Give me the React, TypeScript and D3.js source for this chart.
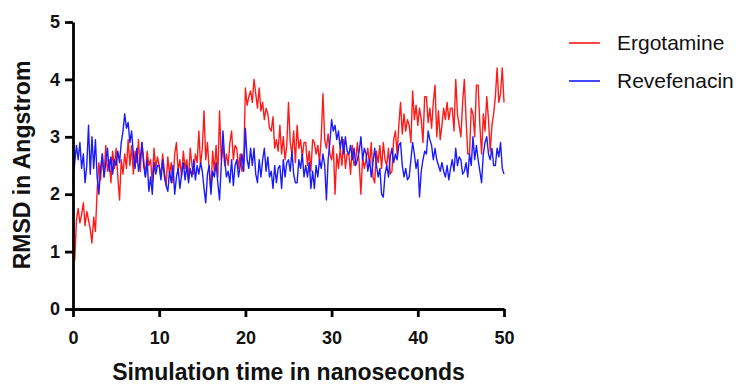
import React, { useRef, useEffect } from 'react';
import * as d3 from 'd3';

// RMSD (Angstrom), sampled every 0.2 ns from 0 to 50 ns
const ergotamine: number[] = [
  1.2, 0.85, 1.55, 1.75, 1.5, 1.65, 1.85, 1.45, 1.7, 1.55,
  1.4, 1.15, 1.6, 1.35, 2.05, 2.55, 2.25, 2.7, 2.3, 2.85,
  2.4, 2.6, 2.2, 2.75, 2.45, 2.8, 2.3, 1.9, 2.6, 2.35,
  2.7, 2.45, 2.95, 2.5, 2.85, 2.35, 2.75, 2.55, 2.95, 2.4,
  2.9, 2.6, 2.3, 2.75, 2.5, 2.6, 2.2, 2.8, 2.45, 2.65,
  2.5, 2.3, 2.7, 2.4, 2.15, 2.65, 2.35, 2.55, 2.2, 2.7,
  2.9, 2.4, 2.6, 2.3, 2.75, 2.45, 2.6, 2.25, 2.8, 2.5,
  2.35, 2.7, 2.55, 3.1, 2.5, 2.8, 3.45, 2.6, 2.9, 2.4,
  2.05, 2.75, 2.4, 2.85, 2.3, 3.45, 2.6, 2.85, 2.5, 2.7,
  2.5, 2.9, 3.1, 2.6, 2.85, 2.8, 2.45, 2.7, 2.4, 2.55,
  3.85, 3.55, 3.7, 3.8, 3.6, 4.0, 3.75, 3.5, 3.85, 3.45,
  3.6, 3.3, 3.5, 3.4, 3.15, 3.1, 3.35, 2.8, 2.95, 2.75,
  3.2, 2.7, 3.0, 2.6, 2.85, 3.6, 2.9, 2.7, 3.1, 2.55,
  3.2, 2.8, 2.95, 2.65, 2.9, 2.9, 2.5, 2.75, 2.4, 2.95,
  2.9, 2.7, 2.85, 2.55, 3.0, 3.75, 2.95, 2.8, 3.05, 2.7,
  2.6, 2.85, 2.0, 2.7, 2.45, 2.8, 2.5, 2.95, 2.45, 2.7,
  2.7, 2.35, 2.85, 2.5, 2.6, 2.9, 2.55, 2.0, 2.65, 2.45,
  2.6, 2.8, 2.5, 2.9, 2.3, 2.2, 2.75, 2.55, 2.85, 2.45,
  2.9, 2.6, 2.5, 2.8, 2.35, 2.4, 2.95, 3.1, 2.7, 3.2,
  3.6, 3.05, 3.4, 3.1, 3.3, 3.2, 2.9, 3.8, 3.3, 3.55,
  3.2, 3.5, 3.3, 2.9, 3.7, 3.7, 3.25, 3.5, 3.15, 3.6,
  3.9, 3.0, 3.45, 2.95, 3.2, 3.5, 3.3, 3.6, 3.3, 3.5,
  3.5, 3.1, 4.0, 3.4, 3.2, 3.0, 3.6, 4.0, 3.3, 2.7,
  2.7, 3.5, 3.4, 3.0, 3.9, 3.9, 3.2, 2.7, 3.4, 3.1,
  3.7, 3.3, 2.75, 3.2, 3.4, 3.7, 4.2, 3.6, 3.75, 4.2,
  3.6,
];

const revefenacin: number[] = [
  2.2, 2.55, 2.85, 2.6, 2.9, 2.45, 2.7, 2.2, 2.5, 3.2,
  2.35, 3.0, 2.45, 2.95, 2.3, 2.0, 2.45, 2.7, 2.3, 2.55,
  2.8, 2.4, 2.65, 2.35, 2.6, 2.5, 2.75, 2.55, 2.9, 3.1,
  3.4, 3.15, 3.25, 2.9, 3.1, 2.7, 2.45, 2.8, 2.4, 2.6,
  2.9, 2.5, 2.3, 2.6, 2.05, 2.3, 2.0, 2.55, 2.35, 2.5,
  2.5, 2.25, 2.6, 2.3, 2.15, 2.05, 2.4, 2.2, 2.5, 2.0,
  2.3, 2.45, 2.1, 2.35, 2.55, 2.25, 2.5, 2.2, 2.45, 2.3,
  2.6, 2.25, 2.5, 2.35, 2.55, 2.4, 2.1, 1.85, 2.35, 2.5,
  2.0, 2.4, 2.3, 2.55, 2.2, 1.9, 2.5, 3.1, 2.6, 2.3,
  2.4, 2.2, 2.6, 2.15, 2.5, 2.6, 2.3, 2.5, 2.7, 2.4,
  3.15, 2.6, 2.45, 2.8, 2.5, 2.8, 2.35, 2.2, 2.6, 2.3,
  2.6, 2.8, 2.4, 2.65, 2.3, 2.4, 2.1, 2.5, 2.2, 2.45,
  2.5, 2.1, 2.6, 2.3, 2.55, 2.6, 2.4, 2.75, 2.35, 2.2,
  2.2, 2.6, 2.45, 2.7, 2.3, 2.5, 2.3, 2.55, 2.1, 2.4,
  2.1, 2.5, 2.3, 2.6, 2.45, 2.7, 2.5, 1.9, 2.6, 2.9,
  3.3, 3.1, 3.2, 2.95, 3.1, 2.8, 3.0, 2.7, 3.0, 2.75,
  2.7, 2.85, 2.6, 2.8, 2.5, 2.6, 2.75, 3.0, 2.6, 2.8,
  2.7, 2.4, 2.6, 2.3, 2.55, 2.8, 2.5, 2.3, 2.45, 2.0,
  1.95, 2.35, 2.5, 2.3, 2.65, 2.8, 2.55, 2.7, 2.6, 2.85,
  2.9, 2.5, 2.3, 2.45, 2.25, 2.3, 2.6, 2.9, 2.7, 2.45,
  2.6, 1.95, 2.4, 2.6, 2.75, 2.7, 3.1, 2.95, 2.85, 2.6,
  2.8, 2.6, 2.5, 2.4, 2.55, 2.4, 2.3, 2.5, 2.25, 2.45,
  2.6, 2.4, 2.8, 2.5, 2.65, 2.6, 2.35, 2.4, 2.55, 2.3,
  2.7, 2.5, 3.0, 2.6, 2.85, 2.6, 2.4, 2.2, 2.7, 2.9,
  3.0, 2.7, 2.6, 2.8, 2.5, 2.5, 2.8, 2.65, 2.9, 2.45,
  2.35,
];

const seriesNames = ['Ergotamine', 'Revefenacin'];
const seriesColors = ['#ff1a1a', '#1a1aff'];
const xTicks = [0, 10, 20, 30, 40, 50];
const yTicks = [0, 1, 2, 3, 4, 5];
const timeStep = 0.2;

const App: React.FC = () => {
  const ref = useRef<SVGSVGElement | null>(null);

  useEffect(() => {
    if (!ref.current) return;
    const svg = d3.select(ref.current);
    svg.selectAll('*').remove();

    const width = 745;
    const height = 385;
    const marginLeft = 73;
    const marginRight = 241;
    const marginTop = 22;
    const marginBottom = 76;
    const font = 'Arial, "Liberation Sans", Helvetica, sans-serif';

    const x = d3.scaleLinear()
      .domain([0, 50])
      .range([marginLeft, width - marginRight]);

    const y = d3.scaleLinear()
      .domain([0, 5])
      .range([height - marginBottom, marginTop]);

    const line = d3.line<number>()
      .x((_, i) => x(i * timeStep))
      .y(d => y(d));

    // traces
    [ergotamine, revefenacin].forEach((vals, k) => {
      svg.append('path')
        .datum(vals)
        .attr('fill', 'none')
        .attr('stroke', seriesColors[k])
        .attr('stroke-width', 1.4)
        .attr('stroke-linejoin', 'round')
        .attr('d', line);
    });

    const styleTicks = (g: d3.Selection<SVGGElement, unknown, null, undefined>) => {
      g.select('.domain').attr('stroke-width', 2.8).attr('stroke', '#000');
      g.selectAll('.tick line').attr('stroke-width', 2.8).attr('stroke', '#000');
      g.selectAll('.tick text')
        .attr('font-family', font)
        .attr('font-weight', 'bold')
        .attr('font-size', 18)
        .attr('fill', '#111');
    };

    // x axis
    svg.append('g')
      .attr('transform', `translate(0,${height - marginBottom})`)
      .call(d3.axisBottom(x).tickValues(xTicks).tickFormat(d3.format('d')).tickSize(8).tickPadding(14).tickSizeOuter(0))
      .call(styleTicks);

    // y axis
    svg.append('g')
      .attr('transform', `translate(${marginLeft},0)`)
      .call(d3.axisLeft(y).tickValues(yTicks).tickFormat(d3.format('d')).tickSize(8).tickPadding(5).tickSizeOuter(0))
      .call(styleTicks);

    // axis titles
    svg.append('text')
      .attr('x', (x(0) + x(50)) / 2)
      .attr('y', 380)
      .attr('text-anchor', 'middle')
      .attr('font-family', font)
      .attr('font-weight', 'bold')
      .attr('font-size', 23)
      .attr('fill', '#111')
      .text('Simulation time in nanoseconds');

    svg.append('text')
      .attr('transform', `translate(30,165) rotate(-90)`)
      .attr('text-anchor', 'middle')
      .attr('font-family', font)
      .attr('font-weight', 'bold')
      .attr('font-size', 23)
      .attr('fill', '#111')
      .text('RMSD in Angstrom');

    // legend
    const legend = svg.append('g');
    seriesNames.forEach((name, k) => {
      const ly = 43 + k * 38;
      legend.append('line')
        .attr('x1', 569).attr('x2', 600)
        .attr('y1', ly).attr('y2', ly)
        .attr('stroke', seriesColors[k])
        .attr('stroke-width', 1.6);
      legend.append('text')
        .attr('x', 617)
        .attr('y', ly)
        .attr('dy', '0.35em')
        .attr('font-family', font)
        .attr('font-size', 21)
        .attr('fill', '#111')
        .text(name);
    });
  }, []);

  return (
    <svg
      ref={ref}
      width={745}
      height={385}
      style={{ position: 'absolute', left: 0, top: 0, background: '#fff' }}
    />
  );
};

export default App;
